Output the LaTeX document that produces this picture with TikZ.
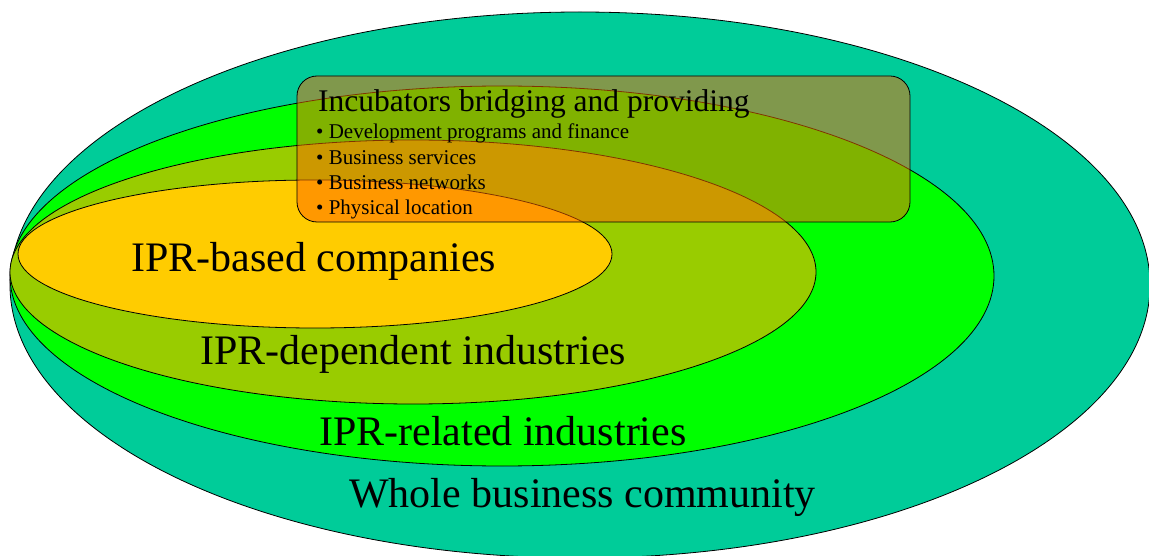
\documentclass[tikz,border=0pt]{standalone}
\usepackage{fontspec}
\setmainfont{Liberation Serif}
\definecolor{cteal}{HTML}{00CC99}
\definecolor{cgreen}{HTML}{00FF00}
\definecolor{colive}{HTML}{99CC00}
\definecolor{cyellow}{HTML}{FFCC00}
\definecolor{corange}{HTML}{FF6600}
\tikzset{
  zone/.style={draw=black, line width=0.8pt},
  biglabel/.style={anchor=base west, inner sep=0pt, font=\fontsize{42}{42}\selectfont},
  boxtitle/.style={anchor=base west, inner sep=0pt, font=\fontsize{31.5}{31.5}\selectfont},
  boxitem/.style={anchor=base west, inner sep=0pt, font=\fontsize{21}{21}\selectfont},
  incubox/.style={draw=black, line width=0.8pt, fill=corange, fill opacity=0.5, rounded corners=20pt}
}
\begin{document}
\begin{tikzpicture}[x=1pt, y=-1pt]
\useasboundingbox (0,0) rectangle (1149,556);
\clip (0,0) rectangle (1149,556);
\fill[white] (0,0) rectangle (1149,556);
% nested zones
\draw[zone, fill=cteal] (580,285) ellipse [x radius=570, y radius=273];
\draw[zone, fill=cgreen] (502,276) ellipse [x radius=492, y radius=190];
\draw[zone, fill=colive] (413,272) ellipse [x radius=403, y radius=132];
\draw[zone, fill=cyellow] (315,254) ellipse [x radius=297, y radius=74];
% incubator box
\draw[incubox] (297,76) rectangle (910,222);
% labels
\node[biglabel] (based) at (131,272) {IPR-based companies};
\node[biglabel] (dependent) at (200,364) {IPR-dependent industries};
\node[biglabel] (related) at (319,445) {IPR-related industries};
\node[biglabel] (whole) at (349,507) {Whole business community};
\node[boxtitle] (title) at (318,112) {Incubators bridging and providing};
\node[boxitem] (i1) at (316,139) {• Development programs and finance};
\node[boxitem] (i2) at (316,165) {• Business services};
\node[boxitem] (i3) at (316,190) {• Business networks};
\node[boxitem] (i4) at (316,215) {• Physical location};
\end{tikzpicture}
\end{document}
